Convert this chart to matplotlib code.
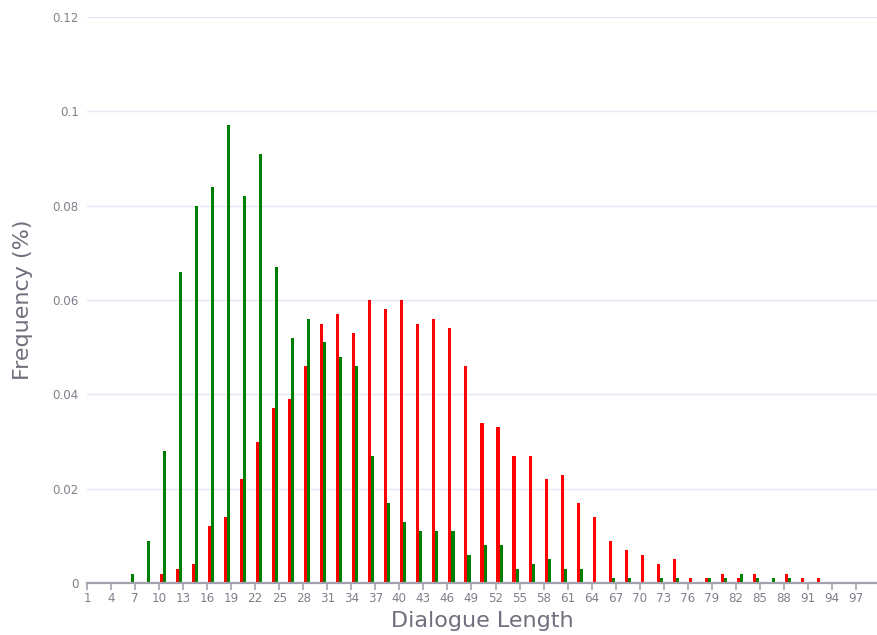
import numpy as np
import matplotlib.pyplot as plt
from matplotlib.ticker import FuncFormatter

# dialogue lengths (even bins) and the two frequency series
lengths = np.arange(6, 94, 2)

freq_red = [0, 0, 0.002, 0.003, 0.004, 0.012, 0.014, 0.022, 0.030, 0.037,
            0.039, 0.046, 0.055, 0.057, 0.053, 0.060, 0.058, 0.060, 0.055, 0.056,
            0.054, 0.046, 0.034, 0.033, 0.027, 0.027, 0.022, 0.023, 0.017, 0.014,
            0.009, 0.007, 0.006, 0.004, 0.005, 0.001, 0.001, 0.002, 0.001, 0.002,
            0, 0.002, 0.001, 0.001]

freq_green = [0.002, 0.009, 0.028, 0.066, 0.080, 0.084, 0.097, 0.082, 0.091, 0.067,
              0.052, 0.056, 0.051, 0.048, 0.046, 0.027, 0.017, 0.013, 0.011, 0.011,
              0.011, 0.006, 0.008, 0.008, 0.003, 0.004, 0.005, 0.003, 0.003, 0,
              0.001, 0.001, 0, 0.001, 0.001, 0, 0.001, 0.001, 0.002, 0.001,
              0.001, 0.001, 0, 0]

xticks = np.arange(1, 98, 3)
yticks = [0, 0.02, 0.04, 0.06, 0.08, 0.1, 0.12]

txt = '#6f6f7d'
tick_col = '#80808c'

fig = plt.figure(figsize=(8.78, 6.35), dpi=100)
ax = fig.add_axes([87/878, 52/635, 791/878, 566/635])

w = 0.38
ax.bar(lengths + 0.31, freq_red, width=w, color='#ff0000', zorder=2)
ax.bar(lengths + 0.69, freq_green, width=w, color='#008000', zorder=2)

ax.set_xlim(1, 99.75)
ax.set_ylim(0, 0.12)
ax.set_xticks(xticks)
ax.set_yticks(yticks)
ax.yaxis.set_major_formatter(FuncFormatter(lambda v, p: '{:g}'.format(round(v, 3))))

ax.set_axisbelow(True)
ax.grid(axis='y', color='#e4e6f4', linewidth=1)
for s in ['left', 'right', 'top']:
    ax.spines[s].set_visible(False)
ax.spines['bottom'].set_color('#a2a2ae')
ax.spines['bottom'].set_linewidth(1.6)
ax.spines['bottom'].set_zorder(3)

ax.tick_params(axis='y', length=0, pad=6, labelsize=8.6, labelcolor=tick_col)
ax.tick_params(axis='x', length=5, width=1.2, color='#a2a2ae', pad=1.5,
               labelsize=8.6, labelcolor=tick_col)

ax.set_xlabel('Dialogue Length', fontsize=16, color=txt, labelpad=4.5)
ax.set_ylabel('Frequency (%)', fontsize=16, color=txt, labelpad=13.5)

fig.savefig('out.png', dpi=100)
